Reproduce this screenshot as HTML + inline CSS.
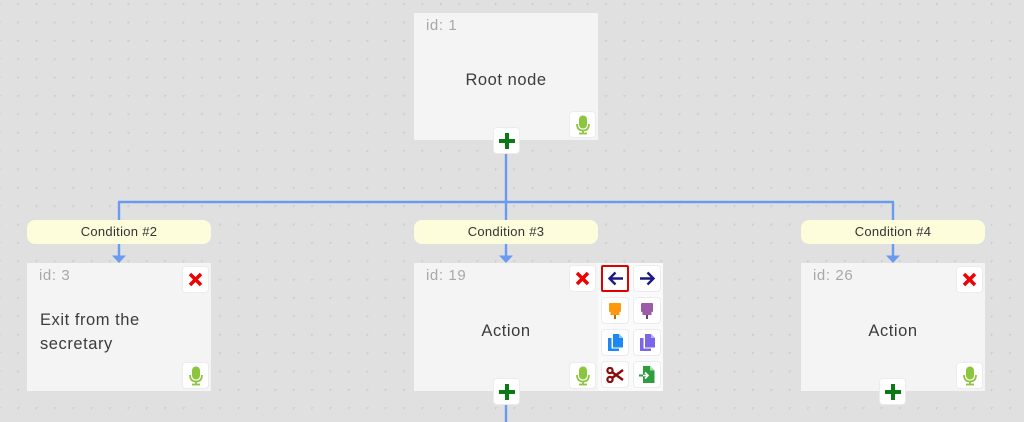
<!DOCTYPE html>
<html><head><meta charset="utf-8">
<style>
*{margin:0;padding:0;box-sizing:border-box}
html,body{width:1024px;height:422px;overflow:hidden;background:#e0e0e0;font-family:"Liberation Sans",sans-serif}
.abs{position:absolute}
.node{position:absolute;background:#f4f4f4;width:184px;height:128px}
.id{position:absolute;left:12px;top:4px;font-size:15px;color:#a8a8a8;letter-spacing:0.6px}
.txt{position:absolute;font-size:16.5px;color:#3c3c3c;letter-spacing:0.55px}
.pill{position:absolute;width:184px;height:24px;background:#fdfcdb;border-radius:8px;font-size:13px;color:#333;text-align:center;line-height:24px;letter-spacing:0.3px}
.btn{position:absolute;width:27px;height:27px;background:#fff;border:1px solid #ececec;border-radius:4px;display:flex;align-items:center;justify-content:center}
.tb{position:absolute;left:598px;top:263px;width:65px;height:128px;background:#fafafa}
</style></head><body>
<svg class="abs" style="left:0;top:0" width="1024" height="422">
<defs>
<pattern id="dots" x="-0.4" y="3.3" width="18.37" height="18.37" patternUnits="userSpaceOnUse">
<rect x="-1" y="-0.5" width="3" height="1" fill="#c8c8c8"/>
<rect x="-0.5" y="-1" width="1" height="3" fill="#c8c8c8"/>
<rect x="17.37" y="-0.5" width="3" height="1" fill="#c8c8c8"/>
<rect x="17.87" y="-1" width="1" height="3" fill="#c8c8c8"/>
</pattern>
</defs>
<rect width="1024" height="422" fill="url(#dots)"/>
<g stroke="#6a9bef" stroke-width="2.4" fill="none">
<line x1="506" y1="150" x2="506" y2="202"/>
<line x1="118" y1="202" x2="894" y2="202"/>
<line x1="119" y1="202" x2="119" y2="257"/>
<line x1="506" y1="202" x2="506" y2="257"/>
<line x1="893" y1="202" x2="893" y2="257"/>
<line x1="506" y1="400" x2="506" y2="422"/>
</g>
<g fill="#6a9bef">
<polygon points="112,255.5 126,255.5 119,263"/>
<polygon points="499,255.5 513,255.5 506,263"/>
<polygon points="886,255.5 900,255.5 893,263"/>
</g>
</svg>

<!-- Root -->
<div class="node" style="left:414px;top:13px;height:127px">
<div class="id">id: 1</div>
<div class="txt" style="left:0;width:184px;text-align:center;top:58px">Root node</div>
</div>
<div class="btn" style="left:569px;top:111px"><svg width="16" height="20" viewBox="0 0 16 20"><rect x="4" y="0.5" width="8" height="13" rx="4" fill="#8cc63f"/><path d="M2 9 Q2 15.5 8 15.5 Q14 15.5 14 9" stroke="#8cc63f" stroke-width="1.8" fill="none"/><rect x="7.1" y="15" width="1.8" height="3" fill="#8cc63f"/><rect x="4" y="17.6" width="8" height="1.8" fill="#8cc63f"/></svg></div>
<div class="btn" style="left:493px;top:127px"><svg width="18" height="18"><rect x="7" y="1" width="4" height="16" fill="#0b7a14"/><rect x="1" y="7" width="16" height="4" fill="#0b7a14"/></svg></div>

<!-- Pills -->
<div class="pill" style="left:27px;top:220px">Condition #2</div>
<div class="pill" style="left:414px;top:220px">Condition #3</div>
<div class="pill" style="left:801px;top:220px">Condition #4</div>

<!-- Left node -->
<div class="node" style="left:27px;top:263px">
<div class="id">id: 3</div>
<div class="txt" style="left:13px;top:45px;line-height:24px">Exit from the<br>secretary</div>
</div>
<div class="btn" style="left:182px;top:266px"><svg width="15" height="15"><path d="M2 2 L13 13 M13 2 L2 13" stroke="#f00000" stroke-width="3.5"/></svg></div>
<div class="btn" style="left:182px;top:362px"><svg width="16" height="20" viewBox="0 0 16 20"><rect x="4" y="0.5" width="8" height="13" rx="4" fill="#8cc63f"/><path d="M2 9 Q2 15.5 8 15.5 Q14 15.5 14 9" stroke="#8cc63f" stroke-width="1.8" fill="none"/><rect x="7.1" y="15" width="1.8" height="3" fill="#8cc63f"/><rect x="4" y="17.6" width="8" height="1.8" fill="#8cc63f"/></svg></div>

<!-- Middle node -->
<div class="node" style="left:414px;top:263px">
<div class="id">id: 19</div>
<div class="txt" style="left:0;width:184px;text-align:center;top:59px">Action</div>
</div>
<div class="tb"></div>
<div class="btn" style="left:569px;top:265px"><svg width="15" height="15"><path d="M2 2 L13 13 M13 2 L2 13" stroke="#f00000" stroke-width="3.5"/></svg></div>
<div class="btn" style="left:569px;top:362px"><svg width="16" height="20" viewBox="0 0 16 20"><rect x="4" y="0.5" width="8" height="13" rx="4" fill="#8cc63f"/><path d="M2 9 Q2 15.5 8 15.5 Q14 15.5 14 9" stroke="#8cc63f" stroke-width="1.8" fill="none"/><rect x="7.1" y="15" width="1.8" height="3" fill="#8cc63f"/><rect x="4" y="17.6" width="8" height="1.8" fill="#8cc63f"/></svg></div>
<div class="btn" style="left:493px;top:378px"><svg width="18" height="18"><rect x="7" y="1" width="4" height="16" fill="#0b7a14"/><rect x="1" y="7" width="16" height="4" fill="#0b7a14"/></svg></div>

<!-- toolbar -->
<div class="btn" style="left:601px;top:265px;width:28px;border:2px solid #e00000;border-radius:2px"><svg width="17" height="15"><path d="M16 7.5 H2.5 M8.5 1.5 L2.5 7.5 L8.5 13.5" stroke="#1a1a80" stroke-width="2.4" fill="none"/></svg></div>
<div class="btn" style="left:633px;top:265px;width:28px"><svg width="17" height="15"><path d="M1 7.5 H14.5 M8.5 1.5 L14.5 7.5 L8.5 13.5" stroke="#1a1a80" stroke-width="2.4" fill="none"/></svg></div>
<div class="btn" style="left:601px;top:297px;width:28px"><svg width="14" height="18"><rect x="1" y="1" width="12" height="9" rx="1" fill="#ff9a10"/><rect x="2.5" y="10" width="9" height="3" fill="#ff9a10"/><rect x="6" y="13" width="2" height="4" fill="#c06a00"/></svg></div>
<div class="btn" style="left:633px;top:297px;width:28px"><svg width="14" height="18"><rect x="1" y="1" width="12" height="9" rx="1" fill="#9c5aa8"/><rect x="2.5" y="10" width="9" height="3" fill="#9c5aa8"/><rect x="6" y="13" width="2" height="4" fill="#6e3a7a"/></svg></div>
<div class="btn" style="left:601px;top:329px;width:28px"><svg width="17" height="19"><path d="M1 5 H4.5 V15.5 H12 V18 H1 Z" fill="#1e88f0"/><path d="M6 1 H12 L16 5 V14.5 H6 Z" fill="#1e88f0"/><path d="M12 1 V5 H16" fill="#8fc4f8"/></svg></div>
<div class="btn" style="left:633px;top:329px;width:28px"><svg width="17" height="19"><path d="M1 5 H4.5 V15.5 H12 V18 H1 Z" fill="#7b66e8"/><path d="M6 1 H12 L16 5 V14.5 H6 Z" fill="#7b66e8"/><path d="M12 1 V5 H16" fill="#bcb0f4"/></svg></div>
<div class="btn" style="left:601px;top:361px;width:28px"><svg width="18" height="16"><circle cx="4" cy="3.5" r="2.6" stroke="#8b0a0a" stroke-width="2.2" fill="none"/><circle cx="4" cy="12.5" r="2.6" stroke="#8b0a0a" stroke-width="2.2" fill="none"/><path d="M6 5 L17 13 M6 11 L17 3" stroke="#8b0a0a" stroke-width="2.4"/></svg></div>
<div class="btn" style="left:633px;top:361px;width:28px"><svg width="18" height="19"><path d="M5 1 H12 L16.5 5.5 V18 H5 Z" fill="#2e9e3e"/><path d="M12 1 V5.5 H16.5" fill="#a8dca8"/><path d="M1 10.5 H10 M7 7.5 L10 10.5 L7 13.5" stroke="#2e9e3e" stroke-width="2" fill="none"/><path d="M5 10.5 H10 M7 7.5 L10 10.5 L7 13.5" stroke="#fff" stroke-width="1.6" fill="none"/></svg></div>

<!-- Right node -->
<div class="node" style="left:801px;top:263px">
<div class="id">id: 26</div>
<div class="txt" style="left:0;width:184px;text-align:center;top:59px">Action</div>
</div>
<div class="btn" style="left:956px;top:266px"><svg width="15" height="15"><path d="M2 2 L13 13 M13 2 L2 13" stroke="#f00000" stroke-width="3.5"/></svg></div>
<div class="btn" style="left:956px;top:362px"><svg width="16" height="20" viewBox="0 0 16 20"><rect x="4" y="0.5" width="8" height="13" rx="4" fill="#8cc63f"/><path d="M2 9 Q2 15.5 8 15.5 Q14 15.5 14 9" stroke="#8cc63f" stroke-width="1.8" fill="none"/><rect x="7.1" y="15" width="1.8" height="3" fill="#8cc63f"/><rect x="4" y="17.6" width="8" height="1.8" fill="#8cc63f"/></svg></div>
<div class="btn" style="left:879px;top:378px"><svg width="18" height="18"><rect x="7" y="1" width="4" height="16" fill="#0b7a14"/><rect x="1" y="7" width="16" height="4" fill="#0b7a14"/></svg></div>
</body></html>
